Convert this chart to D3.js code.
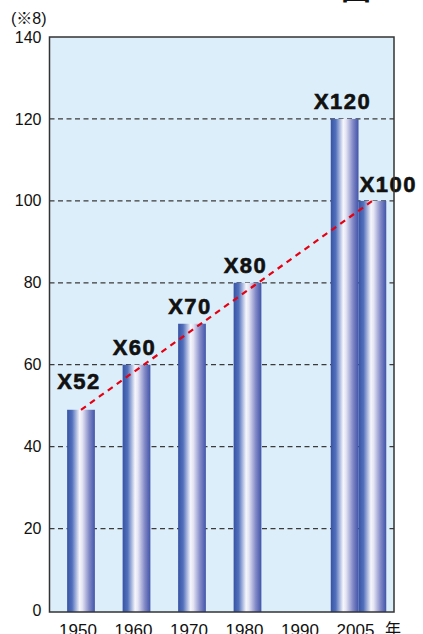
<!DOCTYPE html>
<html>
<head>
<meta charset="utf-8">
<script src="https://cdn.jsdelivr.net/npm/d3@7/dist/d3.min.js"></script>
<style>
  html, body { margin: 0; padding: 0; background: #fff; }
  svg { display: block; }
</style>
</head>
<body>
<script>
// ---- data ----
const years = ["1950", "1960", "1970", "1980", "1990", "2005"];
const barValues = [49, 60, 70, 80, null, 120];
const barLabels = ["X52", "X60", "X70", "X80", "", "X120"];
const extraYears = ["2005"];
const extraValues = [100];
const extraLabels = ["X100"];
const yTicks = [0, 20, 40, 60, 80, 100, 120, 140];
const unitLabel = "(※8)";
const yearUnit = "年";
const figureTitle = "図";

// ---- layout ----
const W = 423, H = 634;
const plot = { left: 49.5, right: 394, top: 37, bottom: 610.5 };
const labelNudge = { X52: [0, -11], X100: [18, 1] };

const svg = d3.select("body").append("svg").attr("width", W).attr("height", H);

const defs = svg.append("defs");
const grad = defs.append("linearGradient").attr("id", "barGrad")
  .attr("x1", "0%").attr("x2", "100%").attr("y1", "0%").attr("y2", "0%");
[["0%", "#3752a4"], ["18%", "#5270bc"], ["45%", "#f6f6fc"], ["55%", "#e4e4f4"], ["80%", "#8088c6"], ["100%", "#4254a8"]]
  .forEach(([o, c]) => grad.append("stop").attr("offset", o).attr("stop-color", c));

const x = d3.scaleBand().domain(years).range([53.25, 386.25]).paddingInner(0.5).paddingOuter(0.25);
const y = d3.scaleLinear().domain([0, 140]).range([plot.bottom, plot.top]);
const bw = x.bandwidth();

// background
svg.append("rect").attr("x", plot.left).attr("y", plot.top)
  .attr("width", plot.right - plot.left).attr("height", plot.bottom + 1.5 - plot.top)
  .attr("fill", "#dceef9");

// gridlines
svg.append("g").selectAll("line").data(yTicks.filter(t => t > 0 && t < 140)).join("line")
  .attr("x1", plot.left).attr("x2", plot.right)
  .attr("y1", d => y(d)).attr("y2", d => y(d))
  .attr("stroke", "#3a3a3a").attr("stroke-width", 1.3).attr("stroke-dasharray", "5,3.5");

// bar data
const hasExtra = new Set(extraYears);
const bars = [];
years.forEach((yr, i) => {
  if (barValues[i] == null) return;
  const off = hasExtra.has(yr) ? -bw / 2 : 0;
  bars.push({ year: yr, value: barValues[i], label: barLabels[i], x0: x(yr) + off });
});
extraYears.forEach((yr, i) => {
  bars.push({ year: yr, value: extraValues[i], label: extraLabels[i], x0: x(yr) + bw / 2 });
});

svg.append("g").selectAll("rect").data(bars).join("rect")
  .attr("x", d => d.x0).attr("width", bw)
  .attr("y", d => y(d.value)).attr("height", d => y(0) - y(d.value) + 1.5)
  .attr("fill", "url(#barGrad)");

// trend line: first bar top to extra bar top
const first = bars[0];
const last = bars[bars.length - 1];
svg.append("line")
  .attr("x1", first.x0 + bw / 2).attr("y1", y(first.value))
  .attr("x2", last.x0 + bw / 2).attr("y2", y(last.value))
  .attr("stroke", "#e60012").attr("stroke-width", 2.2).attr("stroke-dasharray", "6,5");

// bar labels
svg.append("g").selectAll("text").data(bars.filter(d => d.label)).join("text")
  .attr("x", d => d.x0 + bw / 2 - 2 + (labelNudge[d.label] ? labelNudge[d.label][0] : 0))
  .attr("y", d => y(d.value) - 10 + (labelNudge[d.label] ? labelNudge[d.label][1] : 0))
  .attr("text-anchor", "middle")
  .attr("font-family", "'Liberation Sans', Arial, sans-serif")
  .attr("font-weight", "bold").attr("font-size", 22)
  .attr("letter-spacing", "1.5px")
  .attr("fill", "#111").attr("stroke", "#111").attr("stroke-width", 0.6)
  .text(d => d.label);

// frame
svg.append("rect").attr("x", plot.left).attr("y", plot.top)
  .attr("width", plot.right - plot.left).attr("height", plot.bottom + 1.5 - plot.top)
  .attr("fill", "none").attr("stroke", "#333").attr("stroke-width", 1.5);

// y axis
const yAxis = svg.append("g").attr("transform", `translate(${plot.left},0)`)
  .call(d3.axisLeft(y).tickValues(yTicks).tickSize(0).tickPadding(8));
yAxis.select(".domain").remove();
yAxis.selectAll("text").attr("font-family", "'Liberation Sans', Arial, sans-serif")
  .attr("font-size", 16).attr("fill", "#111");

// x axis
const xAxis = svg.append("g").attr("transform", `translate(-3,${plot.bottom})`)
  .call(d3.axisBottom(x).tickSize(0).tickPadding(13));
xAxis.select(".domain").remove();
xAxis.selectAll("text").attr("font-family", "'Liberation Sans', Arial, sans-serif")
  .attr("font-size", 17).attr("fill", "#111");

svg.append("text").attr("x", 385).attr("y", 635)
  .attr("font-family", "'Noto Sans CJK JP', sans-serif").attr("font-size", 16).attr("fill", "#111")
  .text(yearUnit);

svg.append("text").attr("x", 11).attr("y", 24)
  .attr("font-family", "'Liberation Sans', 'Noto Sans CJK JP', sans-serif").attr("font-size", 16).attr("fill", "#111")
  .text(unitLabel);

svg.append("text").attr("x", 341).attr("y", -1.5)
  .attr("font-family", "'Noto Sans CJK JP', sans-serif").attr("font-weight", "bold").attr("font-size", 30).attr("fill", "#111")
  .text(figureTitle);
</script>
</body>
</html>
